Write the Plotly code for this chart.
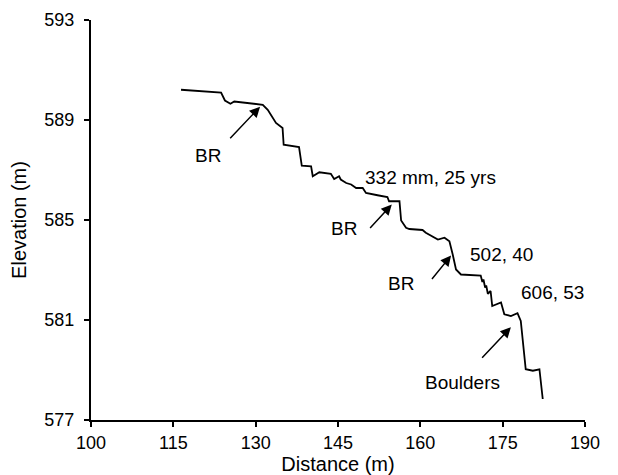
import plotly.graph_objects as go

distance = [116.4, 123.7, 124.4, 125.4, 126.1, 131.3, 132.2, 133.7, 134.9, 135.1,
            137.9, 138.4, 140.1, 140.4, 141.6, 143.7, 144.3, 145.2, 145.5, 146.5,
            147.4, 148.3, 149.5, 150.1, 152.2, 154.0, 154.3, 156.2, 156.5, 157.4,
            158.0, 160.4, 161.0, 161.6, 162.2, 163.2, 164.4, 165.3, 165.9, 166.5,
            167.4, 171.0, 171.3, 171.5, 171.8, 172.0, 172.3, 172.8, 173.1, 174.7,
            175.3, 176.5, 177.7, 178.3, 179.2, 180.5, 181.7, 181.8, 182.3]
elevation = [590.21, 590.10, 589.78, 589.65, 589.74, 589.61, 589.41, 588.88, 588.68, 588.01,
             587.92, 587.17, 587.15, 586.75, 586.91, 586.85, 586.64, 586.75, 586.62, 586.48,
             586.42, 586.28, 586.28, 586.08, 585.99, 585.92, 585.75, 585.75, 584.98, 584.69,
             584.64, 584.60, 584.49, 584.42, 584.35, 584.22, 584.29, 584.15, 583.62, 583.02,
             582.82, 582.78, 582.52, 582.62, 582.30, 582.38, 582.05, 582.16, 581.56, 581.70,
             581.23, 581.16, 581.27, 580.96, 579.03, 578.97, 579.03, 578.83, 577.84]

x_ticks = [100, 115, 130, 145, 160, 175, 190]
y_ticks = [577, 581, 585, 589, 593]

# labels: (text, x, y)
labels = [("332 mm, 25 yrs", 161.9, 586.7),
          ("502, 40", 174.7, 583.62),
          ("606, 53", 184.1, 582.11)]
# arrows: (text, text_x, text_y, tail_x, tail_y, tip_x, tip_y)
arrows = [("BR", 121.3, 587.57, 125.1, 588.21, 130.8, 589.53),
          ("BR", 146.1, 584.66, 150.6, 584.62, 154.8, 585.62),
          ("BR", 156.5, 582.47, 161.9, 582.58, 165.6, 583.58),
          ("Boulders", 167.6, 578.51, 171.0, 579.43, 176.5, 580.71)]

FONT = "Liberation Sans, Arial, sans-serif"
ANN_SIZE = 19

fig = go.Figure()
fig.add_trace(go.Scatter(x=distance, y=elevation, mode="lines",
                         line=dict(color="black", width=1.8), showlegend=False,
                         hoverinfo="skip"))

annotations = []
for t, x, y in labels:
    annotations.append(dict(text=t, x=x, y=y, xref="x", yref="y", showarrow=False,
                            font=dict(family=FONT, size=ANN_SIZE, color="black")))
for t, tx, ty, ax, ay, hx, hy in arrows:
    annotations.append(dict(text=t, x=tx, y=ty, xref="x", yref="y", showarrow=False,
                            font=dict(family=FONT, size=ANN_SIZE, color="black")))
    annotations.append(dict(text="", x=hx, y=hy, ax=ax, ay=ay, xref="x", yref="y",
                            axref="x", ayref="y", showarrow=True, arrowhead=2,
                            arrowsize=1.4, arrowwidth=1.5, arrowcolor="black"))

fig.update_layout(
    width=618, height=475,
    margin=dict(l=83, r=41, t=12, b=63),
    paper_bgcolor="white", plot_bgcolor="white",
    font=dict(family=FONT, size=18, color="black"),
    annotations=annotations,
    xaxis=dict(range=[100, 190], tickvals=x_ticks, showgrid=False, zeroline=False,
               showline=True, linecolor="black", linewidth=2, ticks="outside",
               ticklen=5, tickwidth=1.5, tickcolor="black", automargin=False,
               title=dict(text="Distance (m)", font=dict(size=20), standoff=0)),
    yaxis=dict(range=[577, 593], tickvals=y_ticks, showgrid=False, zeroline=False,
               showline=True, linecolor="black", linewidth=2, ticks="outside",
               ticklen=5, tickwidth=1.5, tickcolor="black", automargin=False,
               ticklabelstandoff=6,
               title=dict(text="Elevation (m)", font=dict(size=20), standoff=14)),
)

fig.write_html("out.html")
